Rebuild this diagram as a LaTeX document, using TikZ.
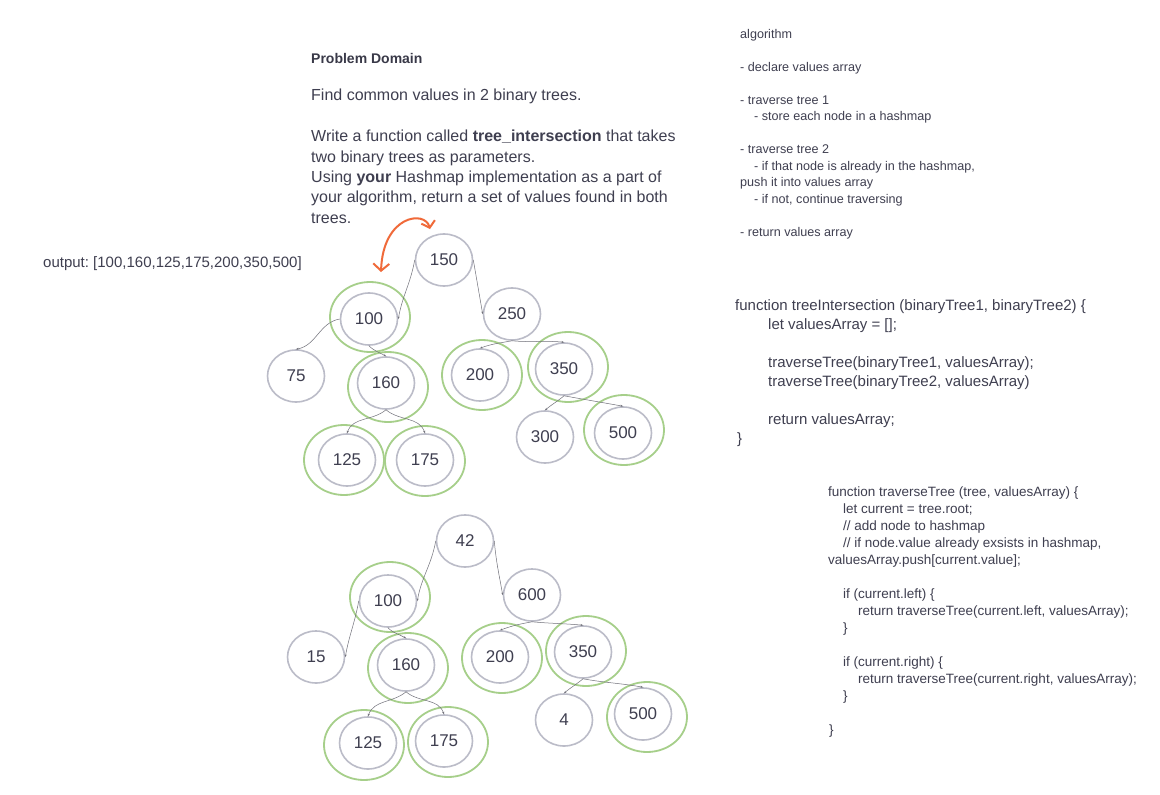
\documentclass[tikz,border=0pt]{standalone}
\usepackage{fontspec}
\setmainfont{Liberation Sans}
\usetikzlibrary{shapes.geometric,arrows.meta}
\frenchspacing

\definecolor{ink}{HTML}{3F3F50}
\definecolor{rim}{HTML}{BBBCC8}
\definecolor{match}{HTML}{A6CF8A}
\definecolor{wire}{HTML}{6F6F78}
\definecolor{marker}{HTML}{F06A3A}

\begin{document}
\begin{tikzpicture}[x=1pt,y=-1pt,
	key/.style={draw=rim,line width=1.6pt,ellipse,minimum width=57pt,minimum height=52pt,inner sep=0pt,text=ink,font=\fontsize{17}{20}\selectfont},
	hit/.style={draw=match,line width=1.8pt,ellipse,minimum width=80pt,minimum height=70pt,inner sep=0pt},
	link/.style={color=wire,line width=0.5pt,-{Stealth[length=2.5pt,width=2pt]}},
	note/.style={anchor=base west,align=left,text=ink,inner sep=0pt}]
	\fill[white] (0,0) rectangle (1160,795);
	\useasboundingbox (0,0) rectangle (1160,795);

	% texts (placed by the baseline of their last line)
	\node[note,text=ink!90!black,font=\bfseries\fontsize{14}{17}\selectfont] (title) at (311,63) {Problem Domain};
	\node[note,font=\fontsize{16}{20.4}\selectfont] (brief) at (311,223.3) {Find common values in 2 binary trees.\\[20.4pt]Write a function called \textbf{tree\_intersection} that takes\\two binary trees as parameters.\\Using \textbf{your} Hashmap implementation as a part of\\your algorithm, return a set of values found in both\\trees.};
	\node[note,font=\fontsize{15}{18}\selectfont] (result) at (43,267) {output: [100,160,125,175,200,350,500]};
	\node[note,font=\fontsize{12.6}{16.5}\selectfont] (steps) at (740,236) {algorithm\\[16.5pt]- declare values array\\[16.5pt]- traverse tree 1\\\hspace*{14pt}- store each node in a hashmap\\[16.5pt]- traverse tree 2\\\hspace*{14pt}- if that node is already in the hashmap,\\push it into values array\\\hspace*{14pt}- if not, continue traversing\\[16.5pt]- return values array};
	\node[note,font=\fontsize{15}{19.1}\selectfont] (mainfn) at (735,443.7) {function treeIntersection (binaryTree1, binaryTree2) \{\\\hspace*{33pt}let valuesArray = [];\\[19.1pt]\hspace*{33pt}traverseTree(binaryTree1, valuesArray);\\\hspace*{33pt}traverseTree(binaryTree2, valuesArray)\\[19.1pt]\hspace*{33pt}return valuesArray;\\\hspace*{2pt}\}};
	\node[note,font=\fontsize{13.5}{17}\selectfont] (walkfn) at (828,734.7) {function traverseTree (tree, valuesArray) \{\\\hspace*{15pt}let current = tree.root;\\\hspace*{15pt}// add node to hashmap\\\hspace*{15pt}// if node.value already exsists in hashmap,\\valuesArray.push[current.value];\\[17pt]\hspace*{15pt}if (current.left) \{\\\hspace*{30pt}return traverseTree(current.left, valuesArray);\\\hspace*{15pt}\}\\[17pt]\hspace*{15pt}if (current.right) \{\\\hspace*{30pt}return traverseTree(current.right, valuesArray);\\\hspace*{15pt}\}\\[17pt]\hspace*{1pt}\}};

	% tree 1
	\node[key] (t150) at (444,260) {150};
	\node[key] (t100) at (369,319) {100};
	\node[key] (t75) at (296,376) {75};
	\node[key] (t160) at (386,383) {160};
	\node[key] (t125) at (347,460) {125};
	\node[key] (t175) at (425,460) {175};
	\node[key] (t250) at (512,314) {250};
	\node[key] (t200) at (480,375) {200};
	\node[key] (t350) at (564,369) {350};
	\node[key] (t300) at (545,437) {300};
	\node[key] (t500) at (623,433) {500};
	\node[hit] (h100) at (370,317) {};
	\node[hit] (h160) at (388,387) {};
	\node[hit] (h125) at (344,460) {};
	\node[hit] (h175) at (425,461) {};
	\node[hit] (h200) at (482,375) {};
	\node[hit] (h350) at (568,367) {};
	\node[hit] (h500) at (624,430) {};
	\path[link]
		(t150.west) edge [out=-100,in=80] (t100.east)
		(t150.east) edge [out=-80,in=100] (t250.west)
		(t100.west) edge [out=190,in=10] (t75.north)
		(t100.south) edge [out=-45,in=150] (t160.north)
		(t160.south) edge [out=-140,in=70] (t125.north)
		(t160.south) edge [out=-40,in=110] (t175.north)
		(t250.south) edge [out=190,in=20] (t200.north)
		(t250.south) edge [out=-5,in=175] (t350.north)
		(t350.south) edge [out=-140,in=40] (t300.north)
		(t350.south) edge [out=-10,in=170] (t500.north);

	% tree 2
	\node[key] (u42) at (465,541) {42};
	\node[key] (u100) at (388,601) {100};
	\node[key] (u15) at (316,657) {15};
	\node[key] (u160) at (406,665) {160};
	\node[key] (u125) at (368,743) {125};
	\node[key] (u175) at (444,741) {175};
	\node[key] (u600) at (532,595) {600};
	\node[key] (u200) at (500,657) {200};
	\node[key] (u350) at (583,652) {350};
	\node[key] (u4) at (564,720) {4};
	\node[key] (u500) at (643,714) {500};
	\node[hit] (g100) at (390,597) {};
	\node[hit] (g160) at (408,668) {};
	\node[hit] (g125) at (364,745) {};
	\node[hit] (g175) at (448,742) {};
	\node[hit] (g200) at (502,658) {};
	\node[hit] (g350) at (586,651) {};
	\node[hit] (g500) at (647,717) {};
	\path[link]
		(u42.west) edge [out=-100,in=80] (u100.east)
		(u42.east) edge [out=-85,in=100] (u600.west)
		(u100.west) edge [out=-100,in=80] (u15.east)
		(u100.south) edge [out=-45,in=150] (u160.north)
		(u160.south) edge [out=-140,in=70] (u125.north)
		(u160.south) edge [out=-40,in=110] (u175.north)
		(u600.south) edge [out=190,in=20] (u200.north)
		(u600.south) edge [out=-5,in=175] (u350.north)
		(u350.south) edge [out=-140,in=40] (u4.north)
		(u350.south) edge [out=-10,in=170] (u500.north);

	% orange hint
	\coordinate (hintA) at (381,272);
	\coordinate (hintB) at (430,229);
	\draw[marker,line width=2pt,line cap=round,line join=round,{Straight Barb[length=7pt,width=16pt]}-{Straight Barb[length=6pt,width=14pt]}]
		(hintA) .. controls (383,215) and (425,210) .. (hintB);
\end{tikzpicture}
\end{document}
